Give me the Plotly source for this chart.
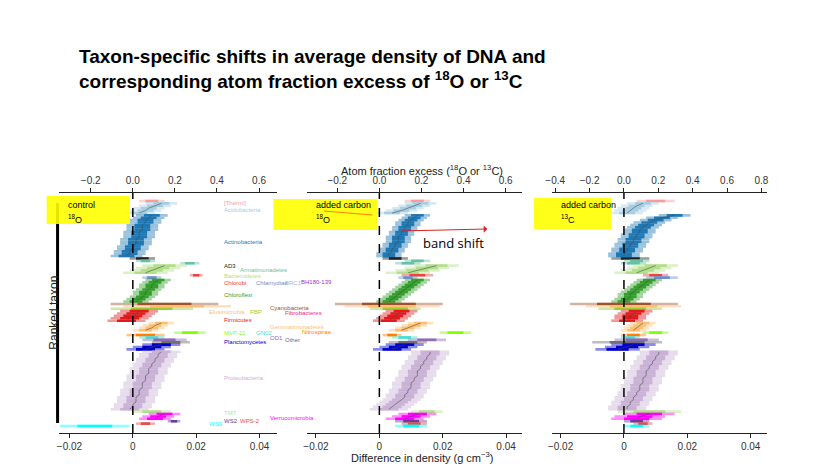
import plotly.graph_objects as go

W, H = 813, 471

# phyla in ranked order, top to bottom
PHYLA = ["[Thermi]", "Acidobacteria", "Actinobacteria", "AD3", "Armatimonadetes", "Bacteroidetes",
         "Chlorobi", "Chlamydiae", "Chloroflexi", "Cyanobacteria", "Elusimicrobia", "FBP",
         "Firmicutes", "Gemmatimonadetes", "MVP-21", "Nitrospirae", "GN02", "OD1", "Other",
         "Planctomycetes", "Proteobacteria", "TM7", "Verrucomicrobia", "WS2", "WPS-2", "WS3"]

COLORS = {"[Thermi]": "#fb9a99", "Acidobacteria": "#a6cee3", "Actinobacteria": "#1f78b4", "AD3": "#222222",
          "Armatimonadetes": "#66c2a5", "Bacteroidetes": "#b2df8a", "Chlorobi": "#f04040",
          "Chlamydiae": "#6a8fd0", "Chloroflexi": "#33a02c", "Cyanobacteria": "#a0522d",
          "Elusimicrobia": "#fdbf6f", "FBP": "#9acd32", "Firmicutes": "#e31a1c",
          "Gemmatimonadetes": "#fdbf6f", "MVP-21": "#7fff00", "Nitrospirae": "#ff7f00",
          "GN02": "#40e0d0", "OD1": "#8e6bb5", "Other": "#707070", "Planctomycetes": "#0000cd",
          "Proteobacteria": "#cab2d6", "TM7": "#b2df8a", "Verrucomicrobia": "#ff00ff",
          "WS2": "#6a3d9a", "WPS-2": "#e05050", "WS3": "#00ffff",
          "BRC1": "#b0b0d0", "BH180-139": "#9932cc", "Fibrobacteres": "#e7298a"}

# mean density shift per taxon (g cm-3), top to bottom within each phylum
CONTROL_18O = {
    "[Thermi]": [0.006], "Acidobacteria": [0.009, 0.007, 0.005, 0.004, 0.002],
    "Actinobacteria": [0.006, 0.005, 0.004, 0.004, 0.003, 0.003, 0.003, 0.002, 0.002, 0.002,
                       0.001, 0.001, 0.001, 0.000, 0.000, -0.001, -0.001, -0.002],
    "AD3": [0.003], "Armatimonadetes": [0.004, 0.018], "Bacteroidetes": [0.010, 0.008, 0.006, 0.004],
    "Chlorobi": [0.020], "Chlamydiae": [0.006],
    "Chloroflexi": [0.008, 0.007, 0.006, 0.006, 0.005, 0.004, 0.004, 0.003, 0.002, 0.001],
    "Cyanobacteria": [0.010], "Elusimicrobia": [0.014], "FBP": [0.006],
    "Firmicutes": [0.002, 0.001, 0.000, -0.001, -0.002], "Gemmatimonadetes": [0.009, 0.007, 0.006, 0.004],
    "MVP-21": [0.018], "Nitrospirae": [0.004], "GN02": [0.006], "OD1": [0.010], "Other": [0.012],
    "Planctomycetes": [0.009, 0.006, 0.004],
    "Proteobacteria": [0.009, 0.008, 0.008, 0.007, 0.007, 0.006, 0.006, 0.005, 0.005, 0.005, 0.004, 0.004,
                       0.004, 0.003, 0.003, 0.003, 0.002, 0.002, 0.002, 0.001, 0.001, 0.001, 0.000, 0.000, -0.001],
    "TM7": [0.006], "Verrucomicrobia": [0.010, 0.008, 0.007], "WS2": [0.013], "WPS-2": [0.004], "WS3": [-0.012]}

CARBON_18O = {
    "[Thermi]": [0.012], "Acidobacteria": [0.013, 0.011, 0.009, 0.007, 0.004],
    "Actinobacteria": [0.012, 0.011, 0.010, 0.009, 0.009, 0.008, 0.008, 0.007, 0.007, 0.006,
                       0.006, 0.006, 0.005, 0.005, 0.004, 0.004, 0.003, 0.003],
    "AD3": [0.005], "Armatimonadetes": [0.012, 0.009], "Bacteroidetes": [0.018, 0.015, 0.012, 0.009],
    "Chlorobi": [0.012], "Chlamydiae": [0.009],
    "Chloroflexi": [0.012, 0.011, 0.010, 0.009, 0.008, 0.007, 0.006, 0.005, 0.004, 0.003],
    "Cyanobacteria": [0.003], "Elusimicrobia": [0.004], "FBP": [0.005],
    "Firmicutes": [0.007, 0.006, 0.005, 0.004, 0.003], "Gemmatimonadetes": [0.013, 0.011, 0.009, 0.007],
    "MVP-21": [0.024], "Nitrospirae": [0.004], "GN02": [0.008], "OD1": [0.015], "Other": [0.009],
    "Planctomycetes": [0.008, 0.006, 0.004],
    "Proteobacteria": [0.016, 0.016, 0.015, 0.015, 0.014, 0.014, 0.013, 0.013, 0.012, 0.012, 0.012, 0.011,
                       0.011, 0.010, 0.010, 0.010, 0.009, 0.009, 0.008, 0.008, 0.007, 0.006, 0.005, 0.004, 0.003],
    "TM7": [0.015], "Verrucomicrobia": [0.012, 0.010, 0.008], "WS2": [0.010], "WPS-2": [0.011], "WS3": [0.010]}

CARBON_13C = {
    "[Thermi]": [0.010], "Acidobacteria": [0.006, 0.004, 0.003, 0.002, 0.001],
    "Actinobacteria": [0.016, 0.012, 0.010, 0.008, 0.007, 0.006, 0.005, 0.005, 0.004, 0.004,
                       0.003, 0.003, 0.002, 0.002, 0.001, 0.001, 0.000, 0.000],
    "AD3": [0.002], "Armatimonadetes": [0.004, 0.003], "Bacteroidetes": [0.010, 0.008, 0.006, 0.004],
    "Chlorobi": [0.010], "Chlamydiae": [0.012],
    "Chloroflexi": [0.008, 0.007, 0.006, 0.005, 0.004, 0.003, 0.002, 0.002, 0.001, 0.000],
    "Cyanobacteria": [0.000], "Elusimicrobia": [0.003], "FBP": [0.002],
    "Firmicutes": [0.004, 0.003, 0.002, 0.002, 0.001], "Gemmatimonadetes": [0.006, 0.005, 0.004, 0.003],
    "MVP-21": [0.010], "Nitrospirae": [0.003], "GN02": [0.002], "OD1": [0.004], "Other": [0.001],
    "Planctomycetes": [0.003, 0.001, -0.002],
    "Proteobacteria": [0.011, 0.011, 0.010, 0.010, 0.009, 0.009, 0.008, 0.008, 0.007, 0.007, 0.007, 0.006,
                       0.006, 0.006, 0.005, 0.005, 0.005, 0.004, 0.004, 0.003, 0.003, 0.002, 0.002, 0.001, 0.001],
    "TM7": [0.008], "Verrucomicrobia": [0.008, 0.005, 0.004], "WS2": [0.004], "WPS-2": [0.006], "WS3": [0.004]}

# 95% interval half-width per phylum, one per panel
CI_CONTROL = {"[Thermi]": 0.004, "Acidobacteria": 0.005, "Actinobacteria": 0.005, "AD3": 0.004,
              "Armatimonadetes": 0.003, "Bacteroidetes": 0.007, "Chlorobi": 0.002, "Chlamydiae": 0.003,
              "Chloroflexi": 0.004, "Cyanobacteria": 0.017, "Elusimicrobia": 0.017, "FBP": 0.013,
              "Firmicutes": 0.006, "Gemmatimonadetes": 0.004, "MVP-21": 0.005, "Nitrospirae": 0.006,
              "GN02": 0.004, "OD1": 0.007, "Other": 0.006, "Planctomycetes": 0.006, "Proteobacteria": 0.006,
              "TM7": 0.006, "Verrucomicrobia": 0.005, "WS2": 0.002, "WPS-2": 0.003, "WS3": 0.011}
CI_CARBON_18O = {"[Thermi]": 0.004, "Acidobacteria": 0.005, "Actinobacteria": 0.004, "AD3": 0.004,
                 "Armatimonadetes": 0.004, "Bacteroidetes": 0.007, "Chlorobi": 0.005, "Chlamydiae": 0.003,
                 "Chloroflexi": 0.004, "Cyanobacteria": 0.017, "Elusimicrobia": 0.015, "FBP": 0.008,
                 "Firmicutes": 0.005, "Gemmatimonadetes": 0.004, "MVP-21": 0.005, "Nitrospirae": 0.003,
                 "GN02": 0.004, "OD1": 0.006, "Other": 0.006, "Planctomycetes": 0.006, "Proteobacteria": 0.006,
                 "TM7": 0.005, "Verrucomicrobia": 0.006, "WS2": 0.005, "WPS-2": 0.004, "WS3": 0.005}
CI_CARBON_13C = {"[Thermi]": 0.006, "Acidobacteria": 0.005, "Actinobacteria": 0.005, "AD3": 0.006,
                 "Armatimonadetes": 0.004, "Bacteroidetes": 0.007, "Chlorobi": 0.004, "Chlamydiae": 0.005,
                 "Chloroflexi": 0.004, "Cyanobacteria": 0.017, "Elusimicrobia": 0.015, "FBP": 0.010,
                 "Firmicutes": 0.005, "Gemmatimonadetes": 0.004, "MVP-21": 0.004, "Nitrospirae": 0.004,
                 "GN02": 0.003, "OD1": 0.007, "Other": 0.011, "Planctomycetes": 0.007, "Proteobacteria": 0.006,
                 "TM7": 0.010, "Verrucomicrobia": 0.008, "WS2": 0.004, "WPS-2": 0.003, "WS3": 0.004}

BOTTOM_TICKS = [-0.02, 0, 0.02, 0.04]
BOTTOM_LABELS = ["\u22120.02", "0", "0.02", "0.04"]
TOP_TICKS_18O = [-0.2, 0.0, 0.2, 0.4, 0.6]
TOP_LABELS_18O = ["\u22120.2", "0.0", "0.2", "0.4", "0.6"]
TOP_TICKS_13C = [-0.4, -0.2, 0.0, 0.2, 0.4, 0.6, 0.8]
TOP_LABELS_13C = ["\u22120.4", "\u22120.2", "0.0", "0.2", "0.4", "0.6", "0.8"]

# label positions in image pixels (left edge, middle)
LABEL_POS = {"[Thermi]": (210, 195), "Acidobacteria": (210, 202), "Actinobacteria": (210, 234),
             "AD3": (210, 258), "Armatimonadetes": (226, 262), "Bacteroidetes": (210, 268),
             "Chlorobi": (210, 275), "Chlamydiae": (242, 275), "BRC1": (272, 275), "BH180-139": (288, 274),
             "Chloroflexi": (210, 287), "Cyanobacteria": (257, 300), "Elusimicrobia": (195, 304),
             "FBP": (236, 304), "Fibrobacteres": (272, 305), "Firmicutes": (210, 312),
             "Gemmatimonadetes": (257, 319), "Nitrospirae": (289, 324), "MVP-21": (210, 325),
             "GN02": (242, 325), "OD1": (257, 330), "Other": (272, 332), "Planctomycetes": (210, 334),
             "Proteobacteria": (210, 370), "TM7": (210, 405), "Verrucomicrobia": (257, 410),
             "WS3": (195, 416), "WS2": (210, 413), "WPS-2": (226, 413)}

def px(x):
    return x / W

def py(y):
    return 1 - y / H

PANELS = [
    dict(means=CONTROL_18O, ci=CI_CONTROL, dom=(45, 266), zero=120, topscale=42.5,
         tt=TOP_TICKS_18O, tl=TOP_LABELS_18O),
    dict(means=CARBON_18O, ci=CI_CARBON_18O, dom=(296, 513), zero=369, topscale=42.5,
         tt=TOP_TICKS_18O, tl=TOP_LABELS_18O),
    dict(means=CARBON_13C, ci=CI_CARBON_13C, dom=(543, 760), zero=616, topscale=34.7,
         tt=TOP_TICKS_13C, tl=TOP_LABELS_13C),
]

n_rows = sum(len(CONTROL_18O[p]) for p in PHYLA)
row_top, row_bot, ax_top, ax_bot = 193, 418, 185, 425
step = (row_bot - row_top) / (n_rows - 1)
y_range = [n_rows - 1 + (ax_bot - row_bot) / step, -(row_top - ax_top) / step]

fig = go.Figure()
layout = {}
tick_font = dict(family="Liberation Sans", size=10, color="#333")

for k, pan in enumerate(PANELS):
    bx = "x" if k == 0 else f"x{2 * k + 1}"
    tx = f"x{2 * k + 2}"
    d0, d1 = pan["dom"]
    lo, hi = (d0 - pan["zero"]) / 3200, (d1 - pan["zero"]) / 3200
    tlo, thi = (d0 - pan["zero"]) / pan["topscale"] * 0.2, (d1 - pan["zero"]) / pan["topscale"] * 0.2
    common = dict(domain=[px(d0), px(d1)], showgrid=False, zeroline=False, showline=True,
                  linecolor="#222", linewidth=1.3, ticks="outside", ticklen=4, tickcolor="#222",
                  tickfont=tick_font)
    layout["xaxis" if k == 0 else f"xaxis{2 * k + 1}"] = dict(
        common, range=[lo, hi], tickvals=BOTTOM_TICKS, ticktext=BOTTOM_LABELS, anchor="y", side="bottom")
    layout[f"xaxis{2 * k + 2}"] = dict(
        common, range=[tlo, thi], tickvals=pan["tt"], ticktext=pan["tl"], overlaying=bx, anchor="y", side="top")

    row = 0
    for ph in PHYLA:
        ms = pan["means"][ph]
        c = pan["ci"][ph]
        xs_out, xs_in, ys = [], [], []
        for m in ms:
            xs_out += [m - c, m + c, None]
            xs_in += [m - c / 2, m + c / 2, None]
            ys += [row, row, None]
            row += 1
        yv = list(range(row - len(ms), row))
        fig.add_trace(go.Scatter(x=xs_out, y=ys, mode="lines", xaxis=bx, yaxis="y", opacity=0.45,
                                 line=dict(color=COLORS[ph], width=2.6), hoverinfo="skip", showlegend=False))
        fig.add_trace(go.Scatter(x=xs_in, y=ys, mode="lines", xaxis=bx, yaxis="y",
                                 line=dict(color=COLORS[ph], width=2.6), hoverinfo="skip", showlegend=False))
        if len(ms) > 2:
            fig.add_trace(go.Scatter(x=ms, y=yv, mode="lines", xaxis=bx, yaxis="y",
                                     line=dict(color="rgba(70,70,70,0.7)", width=0.8),
                                     hoverinfo="skip", showlegend=False))
    # invisible trace to keep top axis drawn
    fig.add_trace(go.Scatter(x=[0], y=[0], xaxis=tx, yaxis="y", mode="markers",
                             marker=dict(opacity=0), hoverinfo="skip", showlegend=False))
    fig.add_shape(type="line", xref=bx, yref="y", x0=0, x1=0, y0=y_range[0], y1=y_range[1],
                  line=dict(color="black", width=1.5, dash="dash"))

layout["yaxis"] = dict(domain=[py(ax_bot), py(ax_top)], range=y_range, showticklabels=False,
                       showgrid=False, zeroline=False, showline=False)

fig.update_layout(width=W, height=H, margin=dict(l=0, r=0, t=0, b=0),
                  paper_bgcolor="white", plot_bgcolor="white", **layout)

# thick y axis bar on the first panel
fig.add_shape(type="line", xref="paper", yref="paper", x0=px(44), x1=px(44), y0=py(195), y1=py(415),
              line=dict(color="black", width=3))

ann = []
for name, (lx, ly) in LABEL_POS.items():
    ann.append(dict(x=px(lx), y=py(ly), xref="paper", yref="paper", text=name, showarrow=False,
                    xanchor="left", yanchor="middle", font=dict(family="Liberation Sans", size=6,
                                                                color=COLORS[name])))

# yellow highlights
for (x0, x1, y0, y1) in [(33, 117, 188, 216), (262, 367, 191, 222), (525, 603, 190, 221)]:
    fig.add_shape(type="rect", xref="paper", yref="paper", x0=px(x0), x1=px(x1), y0=py(y1), y1=py(y0),
                  fillcolor="#ffff00", line=dict(width=0), layer="above", opacity=0.9)
txt_font = dict(family="Liberation Sans", size=9, color="black")
for (lx, top, bottom) in [(53, "control", "<sup>18</sup>O"), (303, "added carbon", "<sup>18</sup>O"),
                          (550, "added carbon", "<sup>13</sup>C")]:
    ann.append(dict(x=px(lx), y=py(197), xref="paper", yref="paper", text=top, showarrow=False,
                    xanchor="left", font=txt_font))
    ann.append(dict(x=px(lx), y=py(211), xref="paper", yref="paper", text=bottom, showarrow=False,
                    xanchor="left", font=txt_font))

fig.add_shape(type="line", xref="paper", yref="paper", x0=px(313), x1=px(362), y0=py(203), y1=py(207),
              line=dict(color="#ff7f00", width=1))
ann.append(dict(x=px(478), y=py(221), ax=-87, ay=2, xref="paper", yref="paper",
                axref="pixel", ayref="pixel", text="", showarrow=True, arrowhead=1, arrowsize=1.2,
                arrowwidth=1, arrowcolor="#e02020"))
ann.append(dict(x=px(411), y=py(235), xref="paper", yref="paper", text="band shift", showarrow=False,
                xanchor="left", font=dict(family="Open Sans", size=13, color="black")))

ann.append(dict(x=px(412), y=py(153), xref="paper", yref="paper",
                text="Atom fraction excess (<sup>18</sup>O or <sup>13</sup>C)", showarrow=False,
                font=dict(family="Liberation Sans", size=11, color="#222")))
ann.append(dict(x=px(412), y=py(458), xref="paper", yref="paper",
                text="Difference in density (g cm<sup>\u22123</sup>)", showarrow=False,
                font=dict(family="Liberation Sans", size=11, color="#222")))
ann.append(dict(x=px(31), y=py(305), xref="paper", yref="paper", text="Ranked taxon", textangle=-90,
                showarrow=False, font=dict(family="Liberation Sans", size=12, color="#222")))
ann.append(dict(x=px(64), y=py(36), xref="paper", yref="paper", xanchor="left", align="left",
                text="<b>Taxon-specific shifts in average density of DNA and<br>"
                     "corresponding atom fraction excess of <sup>18</sup>O or <sup>13</sup>C</b>",
                showarrow=False, font=dict(family="Liberation Sans", size=19, color="black")))

fig.update_layout(annotations=ann)
fig.write_html("out.html")
